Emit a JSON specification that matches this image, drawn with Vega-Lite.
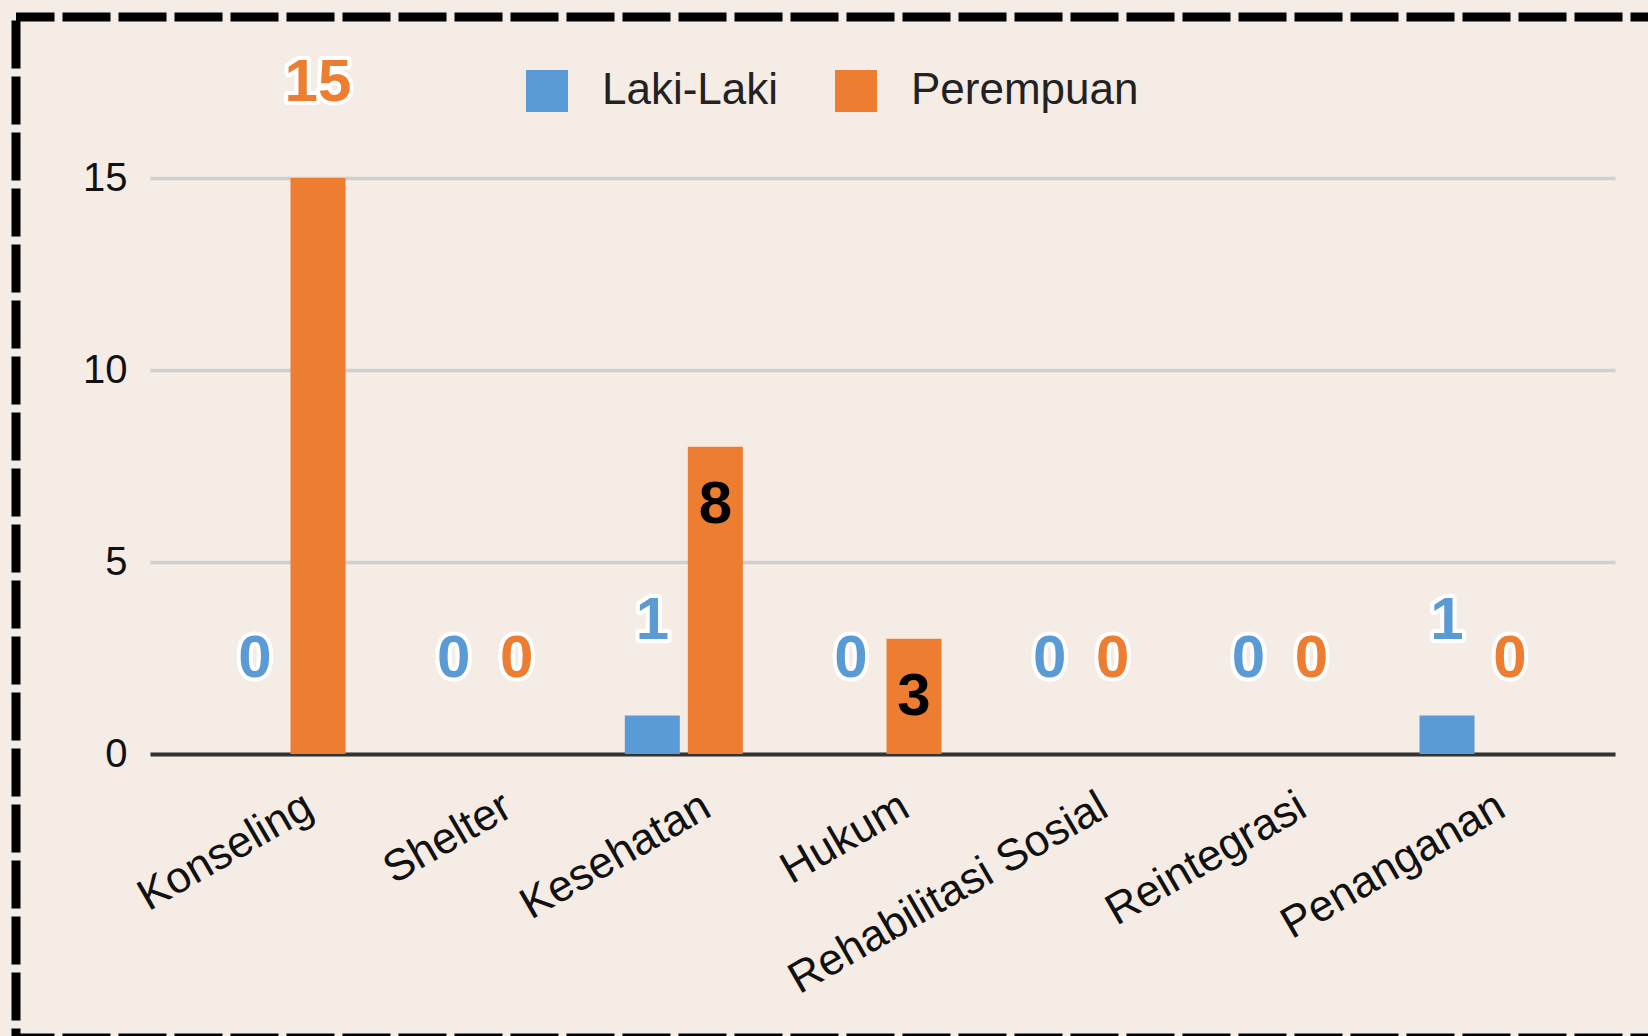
{
  "$schema": "https://vega.github.io/schema/vega-lite/v6.json",
  "width": 1660,
  "height": 1021,
  "autosize": {"type": "none"},
  "padding": {"left": 16, "top": 17, "right": -28, "bottom": -2},
  "background": "#f5ece6",
  "config": {
    "view": {"stroke": "#000000", "strokeWidth": 9, "strokeDash": [48, 8], "strokeDashOffset": 9.5, "fill": "#f5ece6"},
    "font": "Liberation Sans"
  },
  "data": {
    "values": [
      {"layanan": "Konseling", "gender": "Laki-Laki", "value": 0},
      {"layanan": "Konseling", "gender": "Perempuan", "value": 15},
      {"layanan": "Shelter", "gender": "Laki-Laki", "value": 0},
      {"layanan": "Shelter", "gender": "Perempuan", "value": 0},
      {"layanan": "Kesehatan", "gender": "Laki-Laki", "value": 1},
      {"layanan": "Kesehatan", "gender": "Perempuan", "value": 8},
      {"layanan": "Hukum", "gender": "Laki-Laki", "value": 0},
      {"layanan": "Hukum", "gender": "Perempuan", "value": 3},
      {"layanan": "Rehabilitasi Sosial", "gender": "Laki-Laki", "value": 0},
      {"layanan": "Rehabilitasi Sosial", "gender": "Perempuan", "value": 0},
      {"layanan": "Reintegrasi", "gender": "Laki-Laki", "value": 0},
      {"layanan": "Reintegrasi", "gender": "Perempuan", "value": 0},
      {"layanan": "Penanganan", "gender": "Laki-Laki", "value": 1},
      {"layanan": "Penanganan", "gender": "Perempuan", "value": 0}
    ]
  },
  "encoding": {
    "x": {
      "field": "layanan", "type": "nominal", "sort": null,
      "scale": {"range": [134, 1599], "paddingInner": 0.406, "paddingOuter": 0.39},
      "axis": {
        "title": null, "labelAngle": -30, "labelFontSize": 44, "labelColor": "#111111", "labelLimit": 0,
        "domainColor": "#333333", "domainWidth": 4, "ticks": false,
        "offset": -284, "labelPadding": 30, "labelOffset": 12, "zindex": 0
      }
    },
    "xOffset": {"field": "gender", "type": "nominal", "scale": {"paddingInner": 0.127}},
    "y": {
      "field": "value", "type": "quantitative",
      "scale": {"domain": [0, 15], "range": [737, 161], "nice": false},
      "axis": {
        "title": null, "values": [0, 5, 10, 15], "labelFontSize": 40, "labelColor": "#111111",
        "domain": false, "ticks": false, "grid": true, "gridColor": "#cfcfcf", "gridWidth": 3.5,
        "offset": -134, "labelPadding": 23, "zindex": 0
      }
    }
  },
  "layer": [
    {
      "mark": {"type": "bar"},
      "encoding": {
        "color": {
          "field": "gender", "type": "nominal",
          "scale": {"domain": ["Laki-Laki", "Perempuan"], "range": ["#5b9bd5", "#ed7d31"]},
          "legend": {
            "title": null, "orient": "none", "direction": "horizontal",
            "legendX": 509, "legendY": 52, "padding": 0,
            "symbolType": "square", "symbolSize": 1764, "symbolStrokeWidth": 0,
            "labelFontSize": 44, "labelColor": "#222222", "labelOffset": 33, "labelLimit": 0, "columnPadding": 55
          }
        }
      }
    },
    {
      "transform": [{"filter": "!(datum.gender === 'Perempuan' && datum.value > 0 && datum.value < 15)"}],
      "mark": {"type": "text", "dy": -95, "fontSize": 60, "fontWeight": "bold", "fill": "#ffffff", "stroke": "#ffffff", "strokeWidth": 8, "strokeJoin": "round", "baseline": "middle"},
      "encoding": {"text": {"field": "value", "type": "quantitative"}}
    },
    {
      "transform": [{"filter": "!(datum.gender === 'Perempuan' && datum.value > 0 && datum.value < 15)"}],
      "mark": {"type": "text", "dy": -95, "fontSize": 60, "fontWeight": "bold", "baseline": "middle"},
      "encoding": {
        "text": {"field": "value", "type": "quantitative"},
        "fill": {"condition": {"test": "datum.gender === 'Laki-Laki'", "value": "#5b9bd5"}, "value": "#ed7d31"}
      }
    },
    {
      "transform": [{"filter": "datum.gender === 'Perempuan' && datum.value > 0 && datum.value < 15"}],
      "mark": {"type": "text", "dy": 58, "fontSize": 60, "fontWeight": "bold", "fill": "#000000", "baseline": "middle"},
      "encoding": {"text": {"field": "value", "type": "quantitative"}}
    }
  ]
}
